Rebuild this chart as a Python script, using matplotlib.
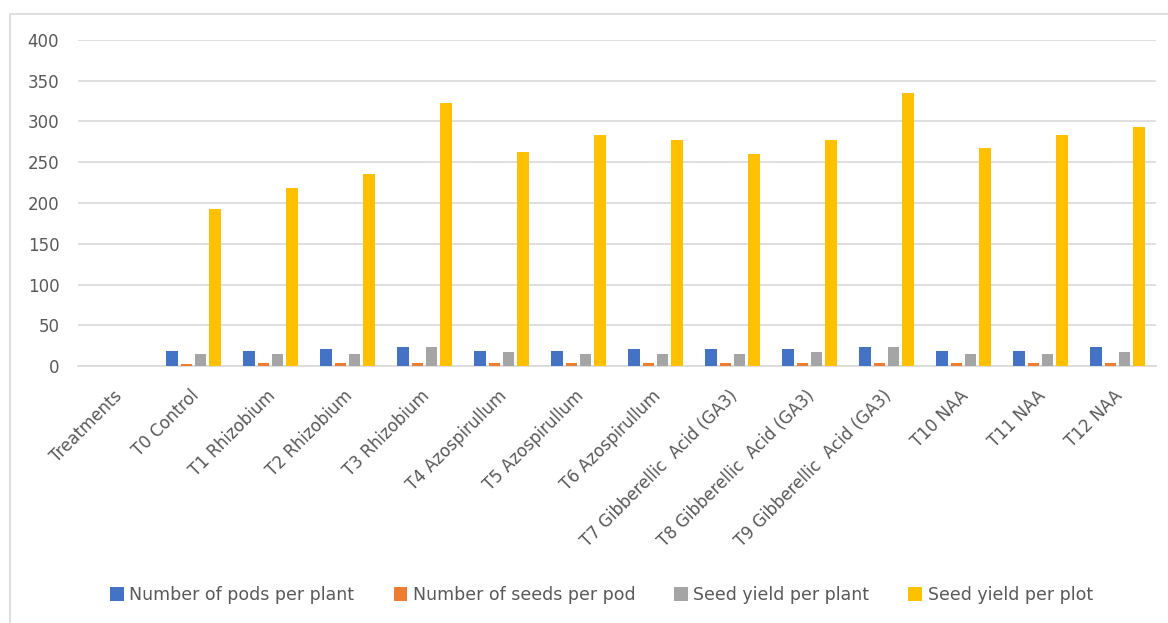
import numpy as np
import matplotlib
matplotlib.use('Agg')
import matplotlib.pyplot as plt
from matplotlib.patches import Rectangle

# treatments on the x axis
treatments = ['Treatments', 'T0 Control', 'T1 Rhizobium', 'T2 Rhizobium', 'T3 Rhizobium',
              'T4 Azospirullum', 'T5 Azospirullum', 'T6 Azospirullum',
              'T7 Gibberellic  Acid (GA3)', 'T8 Gibberellic  Acid (GA3)',
              'T9 Gibberellic  Acid (GA3)', 'T10 NAA', 'T11 NAA', 'T12 NAA']

series_names = ['Number of pods per plant', 'Number of seeds per pod',
                'Seed yield per plant', 'Seed yield per plot']

pods_per_plant = [0, 19, 19, 20.5, 23, 19, 19, 20.5, 20.5, 20.5, 23, 19, 19, 23]
seeds_per_pod = [0, 2.5, 4, 4, 4, 4, 4, 4, 4, 4, 4, 4, 4, 4]
yield_per_plant = [0, 15, 15, 15, 23, 17, 15, 15, 15, 17, 23, 15, 15, 17]
yield_per_plot = [0, 193, 219, 236, 323, 262, 284, 277, 260, 277, 335, 267, 284, 293]

colors = ['#4472C4', '#ED7D31', '#A5A5A5', '#FFC000']
text_color = '#595959'
grid_color = '#D9D9D9'

fig = plt.figure(figsize=(11.68, 6.23), dpi=100)
ax = fig.add_axes([78 / 1168, 1 - 366 / 623, (1156 - 78) / 1168, (366 - 40) / 623])

# outer chart frame
fig.patches.append(Rectangle((10 / 1168, -0.05), 1.1, 1 - 14 / 623 + 0.05,
                             transform=fig.transFigure, fill=False,
                             edgecolor=grid_color, linewidth=1.2))

x = np.arange(len(treatments))
width = 0.145
step = 0.186
all_series = [pods_per_plant, seeds_per_pod, yield_per_plant, yield_per_plot]
for i, (vals, name, col) in enumerate(zip(all_series, series_names, colors)):
    ax.bar(x + (i - 1.5) * step, vals, width, color=col, label=name, zorder=3)

ax.set_xlim(-0.5, len(treatments) - 0.5)
ax.set_ylim(0, 400)
ax.set_yticks(np.arange(0, 401, 50))
ax.grid(axis='y', color=grid_color, linewidth=1.2, zorder=0)
ax.set_axisbelow(True)
for s in ['top', 'right', 'left']:
    ax.spines[s].set_visible(False)
ax.spines['bottom'].set_color(grid_color)
ax.spines['bottom'].set_linewidth(1.2)

ax.tick_params(axis='both', length=0, colors=text_color)
ax.tick_params(axis='y', pad=13.5, labelsize=12)
ax.set_xticks(x - 0.05)
ax.set_xticklabels(treatments, rotation=45, ha='right', rotation_mode='anchor',
                   fontsize=12, color=text_color)
ax.tick_params(axis='x', pad=15)
for lab in ax.get_yticklabels():
    lab.set_color(text_color)

leg = fig.legend(loc='center', bbox_to_anchor=(0.515, 1 - 595 / 623), ncol=4,
                 frameon=False, fontsize=12.5, handlelength=0.8, handleheight=0.8,
                 handletextpad=0.3, columnspacing=2.25)
for t in leg.get_texts():
    t.set_color(text_color)

fig.savefig('out.png', dpi=100)
